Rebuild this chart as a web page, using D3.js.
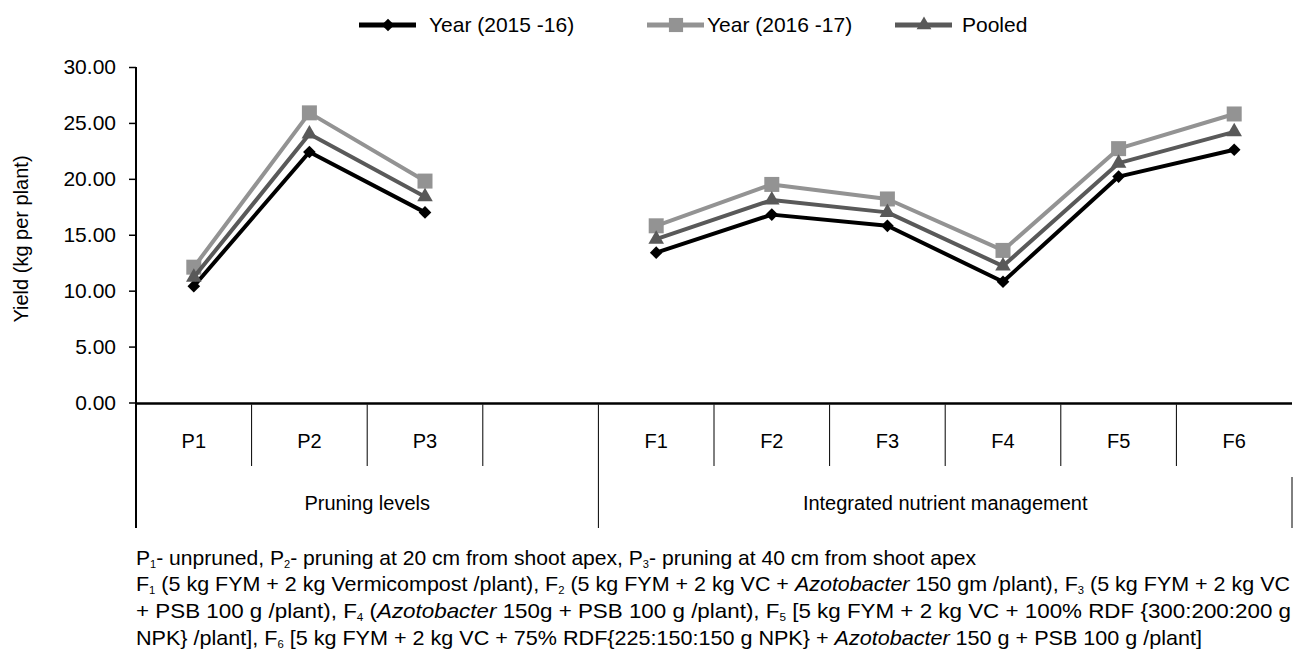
<!DOCTYPE html>
<html>
<head>
<meta charset="utf-8">
<script src="https://cdn.jsdelivr.net/npm/d3@7"></script>
<style>
  body { margin: 0; background: #fff; }
  svg { display: block; font-family: "Liberation Sans", Arial, Helvetica, sans-serif; }
</style>
</head>
<body>
<svg id="chart"></svg>
<script>
const width = 1296
const height = 651

// categories (slot "gap" is the empty column between the two groups)
const slots = ["P1", "P2", "P3", "gap", "F1", "F2", "F3", "F4", "F5", "F6"]
const slotLabels = ["P1", "P2", "P3", "", "F1", "F2", "F3", "F4", "F5", "F6"]
const groupNames = ["Pruning levels", "Integrated nutrient management"]
const groupSizes = [4, 6]

// yield (kg per plant)
const year1516 = [10.4, 22.4, 17.0, null, 13.4, 16.8, 15.8, 10.8, 20.2, 22.6]
const year1617 = [12.1, 25.9, 19.8, null, 15.8, 19.5, 18.2, 13.6, 22.7, 25.8]
const pooled = [11.2, 24.0, 18.4, null, 14.6, 18.1, 17.0, 12.2, 21.4, 24.2]

const seriesNames = ["Year (2015 -16)", "Year (2016 -17)", "Pooled"]
const yTicks = [0, 5, 10, 15, 20, 25, 30]

const series = [
    { name: seriesNames[0], values: year1516, color: "#000000", symbol: "diamond" },
    { name: seriesNames[1], values: year1617, color: "#939393", symbol: "square" },
    { name: seriesNames[2], values: pooled, color: "#595959", symbol: "triangle" }
]

const plotLeft = 136, plotRight = 1292, plotTop = 67, plotBottom = 402.5

const svg = d3.select("#chart").attr("width", width).attr("height", height)

const x = d3.scaleBand().domain(slots).range([plotLeft, plotRight]).padding(0)
const y = d3.scaleLinear().domain([0, 30]).range([plotBottom, plotTop])

function symbolPath(type, big) {
    if (type === "square") return d3.symbol(d3.symbolSquare, big ? 225 : 200)()
    if (type === "triangle") return d3.symbol(d3.symbolTriangle, big ? 105 : 95)()
    return d3.symbol(d3.symbolSquare, 80)()
}
function symbolRotate(type) {
    return type === "diamond" ? " rotate(45)" : ""
}

// y axis
const yAxis = svg.append("g")
    .attr("transform", `translate(${plotLeft},0)`)
    .call(d3.axisLeft(y).tickValues(yTicks).tickFormat(d3.format(".2f")).tickSize(7).tickPadding(13))
yAxis.select(".domain").remove()
yAxis.selectAll(".tick line").attr("stroke", "#000").attr("stroke-width", 1.5)
yAxis.selectAll(".tick text")
    .attr("fill", "#000")
    .style("font-size", "21px")
    .style("font-family", "'Liberation Sans', Arial, sans-serif")

svg.append("line")
    .attr("x1", plotLeft).attr("x2", plotLeft)
    .attr("y1", plotTop).attr("y2", 528)
    .attr("stroke", "#000").attr("stroke-width", 2)

svg.append("text")
    .attr("transform", `translate(28,${(plotTop + 411) / 2}) rotate(-90)`)
    .attr("text-anchor", "middle")
    .style("font-size", "20px")
    .text("Yield (kg per plant)")

// category axis (two levels)
svg.append("line")
    .attr("x1", plotLeft).attr("x2", plotRight)
    .attr("y1", plotBottom + 1).attr("y2", plotBottom + 1)
    .attr("stroke", "#000").attr("stroke-width", 2.5)

let start = 0
const groupEdges = []
groupSizes.forEach((n, i) => {
    groupEdges.push({ name: groupNames[i], x0: x(slots[start]), x1: x(slots[start + n - 1]) + x.bandwidth() })
    start += n
})

slots.forEach((s, i) => {
    if (i === 0) return
    const isGroupEdge = groupEdges.some(g => Math.abs(g.x0 - x(s)) < 0.5)
    svg.append("line")
        .attr("x1", x(s)).attr("x2", x(s))
        .attr("y1", plotBottom + 2).attr("y2", isGroupEdge ? 528 : 466)
        .attr("stroke", "#000").attr("stroke-width", 1)
})
svg.append("line")
    .attr("x1", plotRight).attr("x2", plotRight)
    .attr("y1", 477).attr("y2", 528)
    .attr("stroke", "#000").attr("stroke-width", 1)

svg.append("g").selectAll("text")
    .data(slots)
    .join("text")
    .attr("x", d => x(d) + x.bandwidth() / 2)
    .attr("y", 448)
    .attr("text-anchor", "middle")
    .style("font-size", "20px")
    .text((d, i) => slotLabels[i])

svg.append("g").selectAll("text")
    .data(groupEdges)
    .join("text")
    .attr("x", d => (d.x0 + d.x1) / 2)
    .attr("y", 510)
    .attr("text-anchor", "middle")
    .style("font-size", "20px")
    .text(d => d.name)

// lines and markers
const line = d3.line()
    .defined(d => d.v !== null)
    .x(d => x(d.k) + x.bandwidth() / 2)
    .y(d => y(d.v))

series.forEach(s => {
    const pts = s.values.map((v, i) => ({ k: slots[i], v: v }))
    svg.append("path")
        .datum(pts)
        .attr("fill", "none")
        .attr("stroke", s.color)
        .attr("stroke-width", 4)
        .attr("stroke-linejoin", "round")
        .attr("d", line)

    svg.append("g").selectAll("path")
        .data(pts.filter(d => d.v !== null))
        .join("path")
        .attr("d", symbolPath(s.symbol, true))
        .attr("fill", s.color)
        .attr("transform", d => `translate(${x(d.k) + x.bandwidth() / 2},${y(d.v)})${symbolRotate(s.symbol)}`)
})

// legend
const legendX = [359, 647, 895]
const legendTextOffset = [70, 60, 67]
const legend = svg.append("g")
series.forEach((s, i) => {
    const g = legend.append("g").attr("transform", `translate(${legendX[i]},25)`)
    g.append("line")
        .attr("x1", 0).attr("x2", 57)
        .attr("stroke", s.color).attr("stroke-width", 5)
    g.append("path")
        .attr("d", symbolPath(s.symbol, false))
        .attr("fill", s.color)
        .attr("transform", `translate(29,0)${symbolRotate(s.symbol)}`)
    g.append("text")
        .attr("x", legendTextOffset[i])
        .attr("y", 7)
        .style("font-size", "21px")
        .text(s.name)
})

// footnote: [text, style] runs; style "s" = subscript, "i" = italic
const noteLines = [
    [["P", ""], ["1", "s"], ["- unpruned, P", ""], ["2", "s"], ["- pruning at 20 cm from shoot apex, P", ""], ["3", "s"], ["- pruning at 40 cm from shoot apex", ""]],
    [["F", ""], ["1", "s"], [" (5 kg FYM + 2 kg Vermicompost /plant), F", ""], ["2", "s"], [" (5 kg FYM + 2 kg VC + ", ""], ["Azotobacter", "i"], [" 150 gm /plant), F", ""], ["3", "s"], [" (5 kg FYM + 2 kg VC", ""]],
    [["+ PSB 100 g /plant), F", ""], ["4", "s"], [" (", ""], ["Azotobacter", "i"], [" 150g + PSB 100 g /plant), F", ""], ["5", "s"], [" [5 kg FYM + 2 kg VC + 100% RDF {300:200:200 g", ""]],
    [["NPK} /plant], F", ""], ["6", "s"], [" [5 kg FYM + 2 kg VC + 75% RDF{225:150:150 g NPK} + ", ""], ["Azotobacter", "i"], [" 150 g + PSB 100 g /plant]", ""]]
]
const noteEnds = [976, 1290, 1291, 1202]
const noteBase = [565, 591, 618, 645]

noteLines.forEach((runs, li) => {
    const t = svg.append("text")
        .attr("x", 136)
        .attr("y", noteBase[li])
        .style("font-size", "21px")
        .attr("textLength", noteEnds[li] - 136)
        .attr("lengthAdjust", "spacingAndGlyphs")
    let shifted = false
    runs.forEach(r => {
        const ts = t.append("tspan").text(r[0])
        if (r[1] === "s") {
            ts.style("font-size", "11px").attr("dy", 3)
            shifted = true
        } else {
            if (shifted) { ts.attr("dy", -3); shifted = false }
            if (r[1] === "i") ts.style("font-style", "italic")
        }
    })
})
</script>
</body>
</html>
